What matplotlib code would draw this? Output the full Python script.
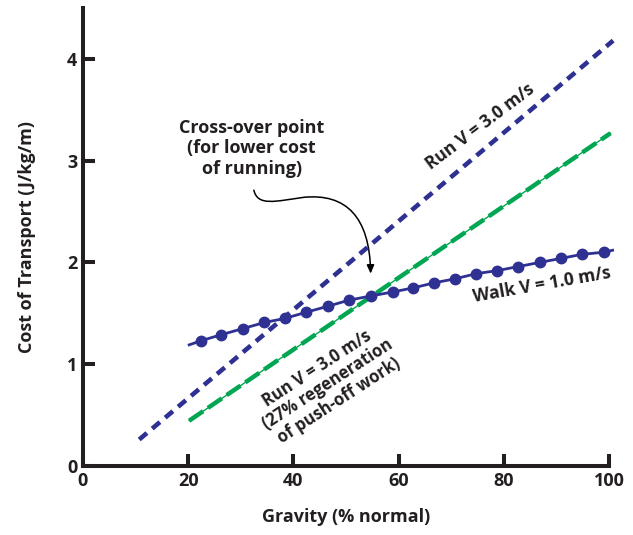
import matplotlib.pyplot as plt
from matplotlib.patches import FancyArrowPatch
from matplotlib.path import Path

plt.rcParams['font.family'] = ['Open Sans', 'DejaVu Sans']
plt.rcParams['font.weight'] = 'bold'

INK = "#231f20"
NAVY = "#2e3192"
GREEN = "#00a651"

# walk V = 1.0 m/s (dots)
walk_x = [22.4, 26.3, 30.4, 34.5, 38.4, 42.4, 46.6, 50.6, 54.7, 58.9,
          62.8, 66.8, 70.8, 74.8, 78.8, 82.8, 86.8, 90.9, 94.9, 99.0]
walk_y = [1.23, 1.29, 1.35, 1.41, 1.45, 1.51, 1.57, 1.63, 1.67, 1.71,
          1.75, 1.80, 1.84, 1.89, 1.92, 1.96, 2.00, 2.04, 2.08, 2.10]
walk_line_x = [20.2] + walk_x + [100.7]
walk_line_y = [1.19] + walk_y + [2.12]

# run V = 3.0 m/s
run_x = [10.7, 100.8]
run_y = [0.26, 4.18]

# run V = 3.0 m/s, 27% regeneration
regen_x = [20.2, 100.3]
regen_y = [0.445, 3.27]

fig = plt.figure(figsize=(6.33, 5.35), dpi=100)
ax = fig.add_axes([0.131, 0.129, 0.831, 0.856])

ax.plot(run_x, run_y, color=NAVY, lw=3.3, dashes=(2.2, 1.5), clip_on=False,
        solid_capstyle='butt', dash_capstyle='butt')
ax.plot(regen_x, regen_y, color=GREEN, lw=1.0, clip_on=False)
ax.plot(regen_x, regen_y, color=GREEN, lw=3.2, dashes=(3.8, 1.3), clip_on=False,
        dash_capstyle='butt')
ax.plot(walk_line_x, walk_line_y, color=NAVY, lw=2.0, clip_on=False)
ax.plot(walk_x, walk_y, 'o', color=NAVY, ms=7.5, clip_on=False)

ax.set_xlim(0, 100)
ax.set_ylim(0, 4.5)
ax.set_xticks([0, 20, 40, 60, 80, 100])
ax.set_yticks([0, 1, 2, 3, 4])
for s in ['top', 'right']:
    ax.spines[s].set_visible(False)
for s in ['left', 'bottom']:
    ax.spines[s].set_linewidth(2.9)
    ax.spines[s].set_color(INK)
ax.tick_params(direction='in', length=8.5, width=2.9, color=INK,
               labelsize=13, labelcolor=INK, pad=4)
for lab in ax.get_xticklabels() + ax.get_yticklabels():
    lab.set_fontweight('bold')

ax.set_xlabel("Gravity (% normal)", fontsize=13, fontweight='bold', color=INK, labelpad=13)
ax.set_ylabel("Cost of Transport (J/kg/m)", fontsize=13, fontweight='bold', color=INK, labelpad=22)

tk = dict(fontweight='bold', color=INK, ha='center', va='center',
          rotation_mode='anchor', multialignment='center')
ax.text(75.5, 3.33, "Run V = 3.0 m/s", rotation=37, fontsize=12.5, **tk)
ax.text(87.2, 1.78, "Walk V = 1.0 m/s", rotation=10, fontsize=12.5, **tk)
ax.text(46.6, 0.80, "Run V = 3.0 m/s\n(27% regeneration\nof push-off work)",
        rotation=33, linespacing=1.1, fontsize=12, **tk)
ax.text(32.1, 3.12, "Cross-over point\n(for lower cost\nof running)",
        linespacing=1.15, fontsize=13, **tk)

verts = [(32.5, 2.71), (33.2, 2.55), (36.5, 2.60), (42.0, 2.64),
         (50.0, 2.68), (54.5, 2.45), (54.7, 1.89)]
codes = [Path.MOVETO] + [Path.CURVE4] * 6
arrow = FancyArrowPatch(path=Path(verts, codes),
                        arrowstyle='-|>,head_length=5,head_width=2.2',
                        color='black', lw=1.1)
ax.add_patch(arrow)

fig.savefig("out.png", dpi=100)
